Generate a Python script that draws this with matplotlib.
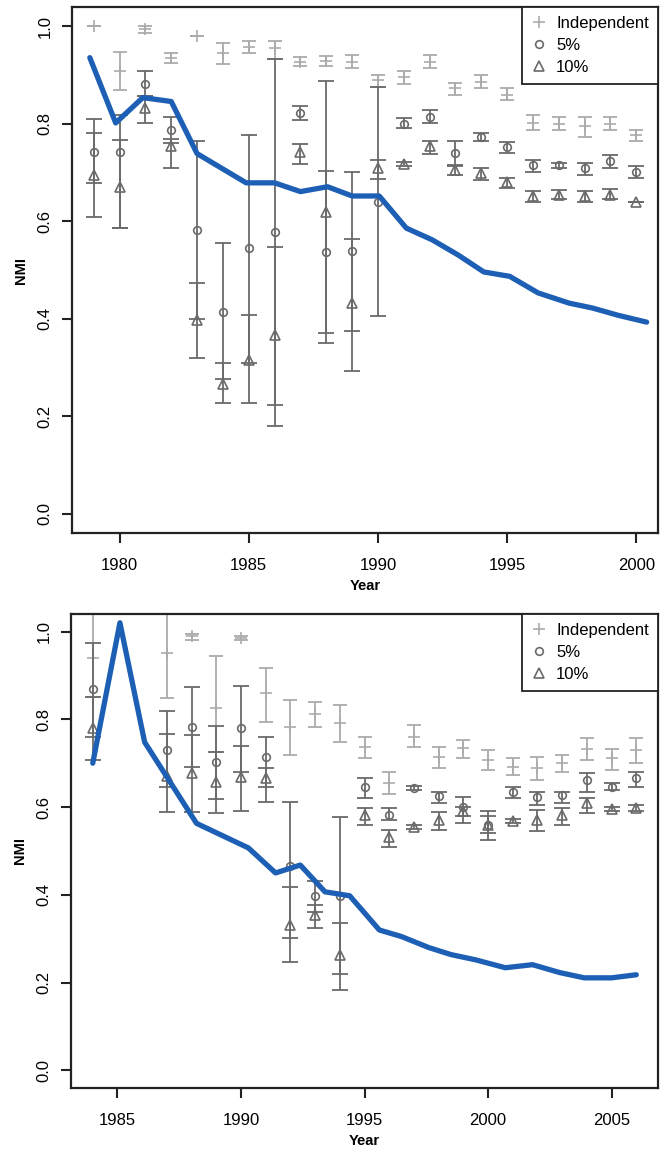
import numpy as np
import matplotlib
matplotlib.use("Agg")
import matplotlib.pyplot as plt
from matplotlib.lines import Line2D

plt.rcParams['font.family'] = ['Liberation Sans', 'DejaVu Sans']

nan = np.nan

# ---------------- top panel (1979-2000) ----------------
years_a = list(range(1979, 2001))
ind_mean_a = [1.0, 0.908, 0.995, 0.936, 0.98, 0.945, 0.958, 0.955, 0.928, 0.93, 0.928,
              0.89, 0.897, 0.928, 0.874, 0.887, 0.86, 0.802, 0.80, 0.795, 0.80, 0.778]
ind_lo_a = [1.0, 0.869, 0.987, 0.926, 0.98, 0.924, 0.946, 0.934, 0.918, 0.918, 0.915,
            0.875, 0.881, 0.915, 0.86, 0.874, 0.85, 0.788, 0.787, 0.774, 0.788, 0.764]
ind_hi_a = [1.0, 0.948, 1.002, 0.946, 0.98, 0.967, 0.97, 0.97, 0.938, 0.94, 0.942,
            0.90, 0.908, 0.942, 0.885, 0.901, 0.874, 0.819, 0.815, 0.815, 0.815, 0.788]
p5_mean_a = [0.743, 0.743, 0.881, 0.788, 0.582, 0.413, 0.545, 0.578, 0.823, 0.537, 0.539,
             0.64, 0.80, 0.815, 0.74, 0.773, 0.752, 0.716, 0.715, 0.71, 0.723, 0.702]
p5_lo_a = [0.679, 0.586, 0.857, 0.76, 0.40, 0.276, 0.31, 0.222, 0.809, 0.37, 0.374,
           0.405, 0.792, 0.802, 0.713, 0.764, 0.741, 0.702, 0.71, 0.695, 0.709, 0.689]
p5_hi_a = [0.81, 0.819, 0.909, 0.815, 0.764, 0.555, 0.778, 0.934, 0.837, 0.889, 0.702,
           0.876, 0.812, 0.829, 0.765, 0.781, 0.762, 0.726, 0.72, 0.72, 0.737, 0.713]
p10_mean_a = [0.695, 0.671, 0.833, 0.754, 0.397, 0.267, 0.316, 0.366, 0.743, 0.62, 0.432,
              0.71, 0.718, 0.754, 0.705, 0.70, 0.68, 0.651, 0.654, 0.651, 0.654, 0.64]
p10_lo_a = [0.609, 0.586, 0.802, 0.709, 0.319, 0.226, 0.226, 0.179, 0.718, 0.35, 0.292,
            0.687, 0.714, 0.739, 0.695, 0.685, 0.668, 0.64, 0.645, 0.64, 0.645, 0.64]
p10_hi_a = [0.781, 0.767, 0.857, 0.77, 0.473, 0.309, 0.407, 0.547, 0.759, 0.704, 0.564,
            0.726, 0.722, 0.764, 0.716, 0.709, 0.689, 0.663, 0.665, 0.663, 0.666, 0.64]
line_x_a = [1978.85, 1979.85, 1980.9, 1982.0, 1983.0, 1984.9, 1986.0, 1987.0, 1988.05, 1989.0,
            1990.05, 1991.1, 1992.1, 1993.1, 1994.1, 1995.1, 1996.2, 1997.4, 1998.3, 1999.3, 2000.4]
line_y_a = [0.936, 0.802, 0.854, 0.846, 0.739, 0.679, 0.679, 0.661, 0.671, 0.652,
            0.652, 0.586, 0.562, 0.531, 0.496, 0.487, 0.453, 0.432, 0.422, 0.407, 0.393]
xticks_a = [1980, 1985, 1990, 1995, 2000]

# ---------------- bottom panel (1984-2006) ----------------
years_b = list(range(1984, 2007))
ind_mean_b = [0.94, nan, nan, 0.95, 0.989, 0.825, 0.986, 0.859, 0.782, 0.811, 0.791, 0.736,
              0.655, 0.759, 0.714, 0.734, 0.707, 0.691, 0.688, 0.70, 0.732, 0.711, 0.73]
ind_lo_b = [0.85, nan, nan, 0.848, 0.98, 0.725, 0.98, 0.794, 0.718, 0.782, 0.748, 0.711,
            0.631, 0.736, 0.688, 0.711, 0.684, 0.673, 0.661, 0.68, 0.707, 0.684, 0.70]
ind_hi_b = [1.1, nan, nan, 1.1, 0.995, 0.945, 0.99, 0.918, 0.845, 0.839, 0.832, 0.759,
            0.68, 0.786, 0.736, 0.754, 0.73, 0.711, 0.714, 0.718, 0.757, 0.732, 0.757]
p5_mean_b = [0.87, nan, nan, 0.73, 0.782, 0.702, 0.78, 0.714, 0.466, 0.398, 0.398, 0.646,
             0.582, 0.643, 0.625, 0.60, 0.56, 0.635, 0.623, 0.627, 0.661, 0.646, 0.666]
p5_lo_b = [0.76, nan, nan, 0.645, 0.691, 0.618, 0.68, 0.645, 0.302, 0.361, 0.22, 0.62,
           0.57, 0.639, 0.609, 0.58, 0.54, 0.62, 0.605, 0.609, 0.635, 0.639, 0.646]
p5_hi_b = [0.973, nan, nan, 0.818, 0.873, 0.784, 0.877, 0.76, 0.611, 0.432, 0.577, 0.666,
           0.598, 0.648, 0.635, 0.623, 0.58, 0.646, 0.635, 0.635, 0.677, 0.655, 0.68]
p10_mean_b = [0.78, nan, nan, 0.67, 0.677, 0.657, 0.668, 0.666, 0.332, 0.355, 0.264, 0.582,
              0.532, 0.555, 0.57, 0.59, 0.559, 0.568, 0.57, 0.582, 0.609, 0.595, 0.598]
p10_lo_b = [0.707, nan, nan, 0.589, 0.589, 0.586, 0.591, 0.611, 0.248, 0.325, 0.184, 0.559,
            0.509, 0.55, 0.548, 0.564, 0.525, 0.564, 0.545, 0.559, 0.586, 0.591, 0.591]
p10_hi_b = [0.85, nan, nan, 0.766, 0.764, 0.725, 0.739, 0.689, 0.418, 0.377, 0.336, 0.598,
            0.548, 0.56, 0.589, 0.60, 0.591, 0.573, 0.593, 0.598, 0.62, 0.60, 0.605]
line_x_b = [1984.0, 1985.1, 1986.1, 1988.2, 1990.3, 1991.4, 1992.4, 1993.4, 1994.4, 1995.6,
            1996.5, 1997.6, 1998.5, 1999.5, 2000.7, 2001.8, 2002.9, 2003.9, 2005.0, 2006.0]
line_y_b = [0.70, 1.02, 0.748, 0.563, 0.507, 0.45, 0.468, 0.407, 0.398, 0.32,
            0.305, 0.28, 0.264, 0.252, 0.234, 0.241, 0.223, 0.211, 0.211, 0.218]
xticks_b = [1985, 1990, 1995, 2000, 2005]

yticks = [0.0, 0.2, 0.4, 0.6, 0.8, 1.0]
labels = ["Independent", "5%", "10%"]

LIGHT = "#ababab"
DARK = "#6a6a6a"
BLUE = "#1c5fb4"


def errbars(ax, x, mean, lo, hi, color, marker, ms, cap):
    x = np.asarray(x, float)
    mean = np.asarray(mean, float)
    lo = np.asarray(lo, float)
    hi = np.asarray(hi, float)
    ok = ~np.isnan(mean)
    ax.errorbar(x[ok], mean[ok], yerr=[mean[ok] - lo[ok], hi[ok] - mean[ok]], fmt="none",
                ecolor=color, elinewidth=1.3, capsize=cap, capthick=1.3)
    ax.plot(x[ok], mean[ok], linestyle="none", marker=marker, ms=ms, mfc="none",
            mec=color, mew=1.2)


def panel(ax, years, ind, p5, p10, lx, ly, xticks, xlim):
    errbars(ax, years, *ind, LIGHT, "+", 9, 5)
    errbars(ax, years, *p5, DARK, "o", 5.5, 6)
    errbars(ax, years, *p10, DARK, "^", 6.5, 6)
    ax.plot(lx, ly, color=BLUE, lw=3.8, solid_joinstyle="round", solid_capstyle="round")
    ax.set_xlim(*xlim)
    ax.set_ylim(-0.04, 1.04)
    ax.set_xticks(xticks)
    ax.set_yticks(yticks)
    ax.set_yticklabels([f"{v:.1f}" for v in yticks], rotation=90, va="center")
    ax.tick_params(axis="both", length=7, width=1.5, labelsize=12, color="#222222")
    ax.tick_params(axis="y", pad=7)
    ax.tick_params(axis="x", pad=11)
    for s in ax.spines.values():
        s.set_linewidth(1.6)
        s.set_color("#222222")
    ax.set_ylabel("NMI", fontsize=10.5, fontweight="bold", labelpad=7)
    ax.set_xlabel("Year", fontsize=10.5, fontweight="bold", labelpad=4)
    handles = [
        Line2D([], [], ls="none", marker="+", ms=9, mec=LIGHT, mew=1.2),
        Line2D([], [], ls="none", marker="o", ms=5.5, mfc="none", mec=DARK, mew=1.2),
        Line2D([], [], ls="none", marker="^", ms=6.5, mfc="none", mec=DARK, mew=1.2),
    ]
    leg = ax.legend(handles, labels, loc="upper right", fontsize=12, frameon=True,
                    fancybox=False, framealpha=1, edgecolor="#222222",
                    borderaxespad=0, handlelength=1.0, handletextpad=0.5,
                    labelspacing=0.42, borderpad=0.55)
    leg.get_frame().set_linewidth(1.3)


fig = plt.figure(figsize=(6.6, 11.5), dpi=100)
ax1 = fig.add_axes([0.1091, 0.5365, 0.8879, 0.4574])
ax2 = fig.add_axes([0.1076, 0.0539, 0.8894, 0.4122])

panel(ax1, years_a, (ind_mean_a, ind_lo_a, ind_hi_a), (p5_mean_a, p5_lo_a, p5_hi_a),
      (p10_mean_a, p10_lo_a, p10_hi_a), line_x_a, line_y_a, xticks_a, (1978.16, 2000.84))
panel(ax2, years_b, (ind_mean_b, ind_lo_b, ind_hi_b), (p5_mean_b, p5_lo_b, p5_hi_b),
      (p10_mean_b, p10_lo_b, p10_hi_b), line_x_b, line_y_b, xticks_b, (1983.12, 2006.88))

fig.savefig("out.png", dpi=100)
